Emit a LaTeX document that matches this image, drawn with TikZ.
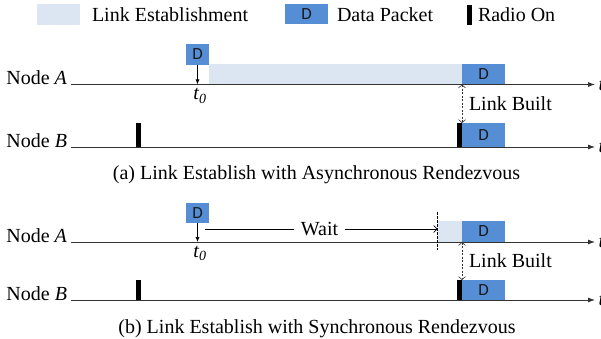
\documentclass[tikz,border=0pt]{standalone}
\usepackage{fontspec}
\setmainfont{Liberation Serif}
\newfontfamily\dfont{Carlito}
\usetikzlibrary{arrows.meta}
\definecolor{lightfill}{RGB}{220,230,242}
\definecolor{dblue}{RGB}{85,142,213}
\begin{document}
\begin{tikzpicture}[x=1pt,y=-1pt,
  txt/.style={font=\fontsize{20}{24}\selectfont, inner sep=0pt, outer sep=0pt},
  box/.style={inner sep=0pt, outer sep=0pt, anchor=north west, draw=none},
  lbox/.style={box, fill=lightfill},
  dbox/.style={box, fill=dblue, font=\dfont\fontsize{17}{20}\selectfont, text=black!90},
  bar/.style={box, fill=black, minimum width=5pt},
  axisline/.style={line width=0.8pt, draw=black!80, -{Latex[length=7pt,width=5pt]}},
  droparrow/.style={line width=0.7pt, -{Latex[length=5pt,width=4pt]}},
  linkarrow/.style={line width=0.6pt, dashed, dash pattern=on 2pt off 1.5pt, draw=black!80, {Straight Barb[length=3pt,width=7pt]}-{Straight Barb[length=3pt,width=7pt]}},
  waitline/.style={line width=0.7pt},
  waitarrow/.style={line width=0.7pt, -{Straight Barb[length=3.5pt,width=7pt]}},
  vdash/.style={line width=0.6pt, dash pattern=on 2.5pt off 1.5pt},
  tlabel/.style={font=\fontsize{20}{24}\selectfont\itshape, inner sep=0pt, anchor=west}
]
\useasboundingbox (0,0) rectangle (601,339);

% ---------- legend ----------
\node[lbox, minimum width=43pt, minimum height=21pt] (lgL) at (37,4) {};
\node[txt, anchor=base west] (lgLt) at (92,22) {Link Establishment};
\node[dbox, minimum width=43pt, minimum height=20pt] (lgD) at (285,4) {D};
\node[txt, anchor=base west] (lgDt) at (337,22) {Data Packet};
\node[bar, minimum height=20pt] (lgR) at (467,5) {};
\node[txt, anchor=base west] (lgRt) at (478,22) {Radio On};

% ---------- panel (a) ----------
\node[txt, anchor=base east] (aNA) at (67,85) {Node \textit{A}};
\coordinate (aA0) at (71,84.5);
\coordinate (aA1) at (595,84.5);
\draw[axisline] (aA0) -- (aA1);
\node[tlabel] (aAt) at (598.5,84.5) {t};

\node[lbox, minimum width=253pt, minimum height=20.5pt] (aL) at (209,64) {};
\node[dbox, minimum width=43pt, minimum height=20.5pt] (aD1) at (462,64) {D};
\node[dbox, minimum width=23pt, minimum height=21pt] (aD0) at (186,44) {D};
\coordinate (aT0) at (aD0.south |- aA0);
\draw[droparrow] (aD0.south) -- (aT0);
\node[txt, anchor=base] (at0) at (200,100) {\textit{t}\textsubscript{\textit{0}}};

\node[txt, anchor=base east] (aNB) at (67,147) {Node \textit{B}};
\coordinate (aB0) at (71,147);
\coordinate (aB1) at (595,147);
\draw[axisline] (aB0) -- (aB1);
\node[tlabel] (aBt) at (598.5,147) {t};

\node[bar, minimum height=24pt] (aR0) at (136,123) {};
\node[bar, minimum width=5.5pt, minimum height=24pt] (aR1) at (456.5,123) {};
\node[dbox, minimum width=43pt, minimum height=24pt] (aD2) at (462,123) {D};
\draw[linkarrow] (aD1.south west) -- (aD2.north west);
\node[txt, anchor=base west] (aLB) at (469,111) {Link Built};

\node[txt, anchor=base] (capa) at (316.5,179) {(a) Link Establish with Asynchronous Rendezvous};

% ---------- panel (b) ----------
\node[txt, anchor=base east] (bNA) at (67,242.5) {Node \textit{A}};
\coordinate (bA0) at (71,242);
\coordinate (bA1) at (595,242);
\draw[axisline] (bA0) -- (bA1);
\node[tlabel] (bAt) at (598.5,242) {t};

\node[lbox, minimum width=24pt, minimum height=21pt] (bL) at (438,221) {};
\node[dbox, minimum width=43pt, minimum height=21pt] (bD1) at (462,221) {D};
\node[dbox, minimum width=23pt, minimum height=20pt] (bD0) at (186,203) {D};
\coordinate (bT0) at (bD0.south |- bA0);
\draw[droparrow] (bD0.south) -- (bT0);
\node[txt, anchor=base] (bt0) at (200,257) {\textit{t}\textsubscript{\textit{0}}};

\coordinate (bV0) at (437.5,212);
\coordinate (bV1) at (437.5,250);
\draw[vdash] (bV0) -- (bV1);

\node[txt, anchor=base, inner xsep=7pt] (wait) at (319.5,235) {Wait};
\coordinate (bW0) at (205,229);
\draw[waitline] (bW0) -- (bW0 -| wait.west);
\draw[waitarrow] (bW0 -| wait.east) -- (bW0 -| bV0);

\node[txt, anchor=base east] (bNB) at (67,300.5) {Node \textit{B}};
\coordinate (bB0) at (71,300);
\coordinate (bB1) at (595,300);
\draw[axisline] (bB0) -- (bB1);
\node[tlabel] (bBt) at (598.5,300) {t};

\node[bar, minimum height=20pt] (bR0) at (136,280) {};
\node[bar, minimum width=5.5pt, minimum height=20pt] (bR1) at (456.5,280) {};
\node[dbox, minimum width=43pt, minimum height=20pt] (bD2) at (462,280) {D};
\draw[linkarrow] (bD1.south west) -- (bD2.north west);
\node[txt, anchor=base west] (bLB) at (469,267) {Link Built};

\node[txt, anchor=base] (capb) at (317,333) {(b) Link Establish with Synchronous Rendezvous};
\end{tikzpicture}
\end{document}
